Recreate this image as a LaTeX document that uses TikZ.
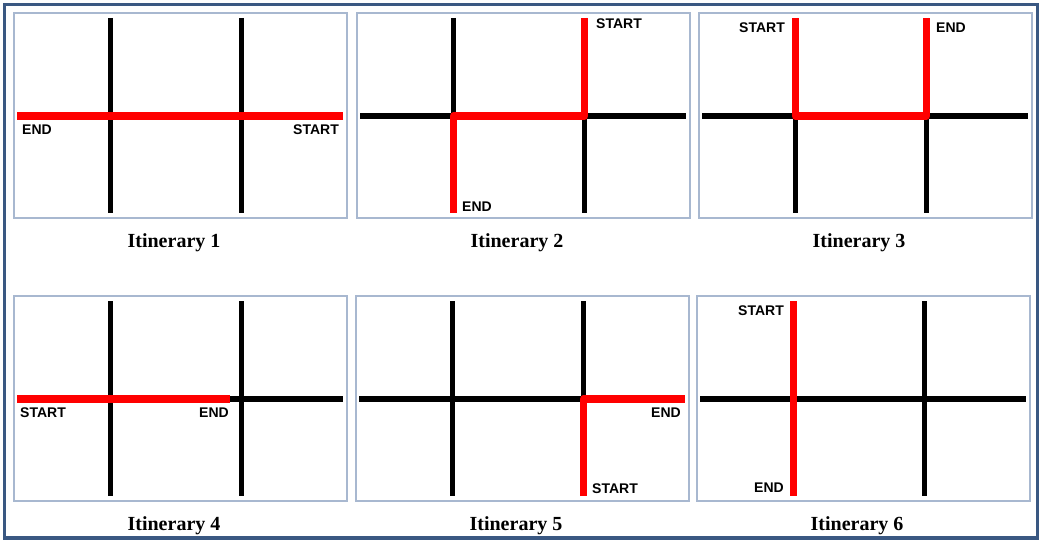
\documentclass[tikz,border=0pt]{standalone}
\usepackage{fontspec}
\setmainfont{Liberation Serif}
\newfontfamily\lblfont{Liberation Sans}
\usepackage{tikz}
\definecolor{framecol}{RGB}{58,88,130}
\definecolor{panelcol}{RGB}{168,184,208}
\definecolor{routecol}{RGB}{255,0,0}

\begin{document}
\begin{tikzpicture}[x=1pt,y=-1pt]
			\tikzstyle{panel} = [draw=panelcol,line width=1.6pt,minimum width=333pt,minimum height=205pt,inner sep=0pt]
			\tikzstyle{road} = [line width=5.5pt,black]
			\tikzstyle{route} = [line width=7.5pt,routecol,line join=round]
			\tikzstyle{lbl} = [inner sep=0pt,font=\lblfont\bfseries\fontsize{14}{16}\selectfont]
			\tikzstyle{caption} = [inner sep=0pt,font=\bfseries\fontsize{20}{24}\selectfont]
			
			\fill[white] (0,0) rectangle (1045,543);
			\useasboundingbox (0,0) rectangle (1045,543);
			\draw[framecol,line width=3.5pt] (4.5,4.5) rectangle (1037.5,538);
			
			\foreach \i/\ox/\oy in {1/14/13,2/357/13,3/699/13,4/14/296,5/356/296,6/697/296}{
				\begin{scope}[shift={(\ox,\oy)}]
					\node[panel] (box\i) at (166.5,102.5) {};
					\node[caption] (cap\i) at (160,230) {Itinerary \i};
					\coordinate (p\i-v1t) at (96.5,5);
					\coordinate (p\i-v1b) at (96.5,200);
					\coordinate (p\i-v2t) at (227.5,5);
					\coordinate (p\i-v2b) at (227.5,200);
					\coordinate (p\i-hl) at (3,103);
					\coordinate (p\i-hr) at (329,103);
					\coordinate (p\i-x1) at (96.5,103);
					\coordinate (p\i-x2) at (227.5,103);
					\draw[road] (p\i-v1t) -- (p\i-v1b);
					\draw[road] (p\i-v2t) -- (p\i-v2b);
					\draw[road] (p\i-hl) -- (p\i-hr);
				\end{scope}
			}
			
			% Itinerary 1
			\draw[route] (p1-hr) -- (p1-hl);
			\node[lbl,anchor=west] (e1) at (22,130) {END};
			\node[lbl,anchor=east] (s1) at (339,130) {START};
			
			% Itinerary 2
			\draw[route] (p2-v2t) -- (p2-x2) -- (p2-x1) -- (p2-v1b);
			\node[lbl,anchor=west] (s2) at (596,24) {START};
			\node[lbl,anchor=west] (e2) at (462,207) {END};
			
			% Itinerary 3
			\draw[route] (p3-v1t) -- (p3-x1) -- (p3-x2) -- (p3-v2t);
			\node[lbl,anchor=east] (s3) at (785,28) {START};
			\node[lbl,anchor=west] (e3) at (936,28) {END};
			
			% Itinerary 4
			\coordinate (p4-stop) at (230,399);
			\draw[route] (p4-hl) -- (p4-stop);
			\node[lbl,anchor=west] (s4) at (20,413) {START};
			\node[lbl,anchor=east] (e4) at (229,413) {END};
			
			% Itinerary 5
			\draw[route] (p5-v2b) -- (p5-x2) -- (p5-hr);
			\node[lbl,anchor=west] (s5) at (592,489) {START};
			\node[lbl,anchor=east] (e5) at (681,413) {END};
			
			% Itinerary 6
			\draw[route] (p6-v1t) -- (p6-v1b);
			\node[lbl,anchor=east] (s6) at (784,311) {START};
			\node[lbl,anchor=east] (e6) at (784,488) {END};
		\end{tikzpicture}
\end{document}
